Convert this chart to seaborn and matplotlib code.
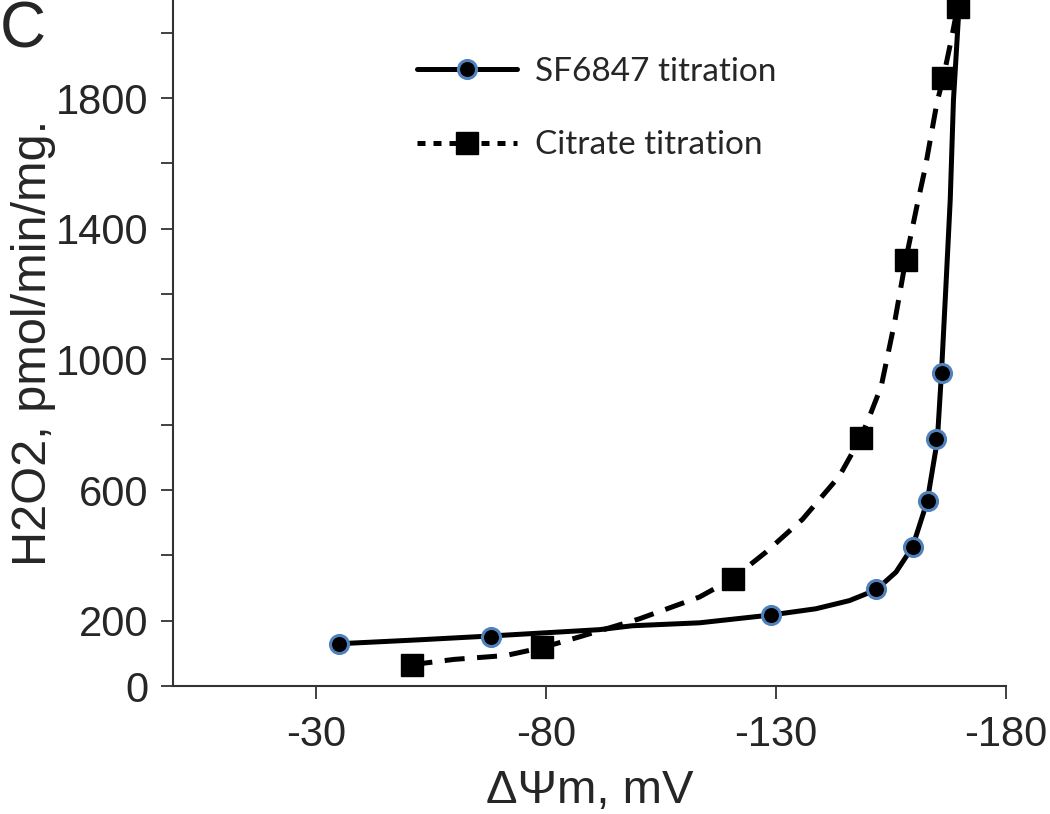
import pandas as pd
import seaborn as sns
import matplotlib
matplotlib.use('Agg')
import matplotlib.pyplot as plt
from matplotlib.lines import Line2D

# measured points
sf_x = [-35, -68, -129, -151.8, -159.7, -163.0, -164.8, -166.1]
sf_y = [130, 151, 218, 298, 425, 567, 756, 959]
cit_x = [-51, -79.2, -120.6, -148.5, -158.2, -166.3, -169.6]
cit_y = [66, 120, 328, 761, 1303, 1862, 2078]

# fitted curves
sf_fit_x = [-35.1, -52.5, -68.4, -91.6, -98.8, -113.4, -129, -138.7, -146, -151.8,
            -156.1, -159.7, -162.9, -165.1, -166, -167.0, -167.9, -168.6, -169.9]
sf_fit_y = [130, 142, 154, 173, 185, 194, 218, 237, 262, 295,
            349, 426, 566, 753, 960, 1235, 1489, 1794, 2099]
cit_fit_x = [-51, -60, -71.3, -79.2, -87.3, -100.3, -113.4, -120.5, -127.9, -135.8,
             -143.8, -148.5, -150.7, -152.9, -155.8, -158.2, -160.8, -162.5, -165.0,
             -166.4, -168.1, -169.5]
cit_fit_y = [66, 82, 94, 118, 151, 206, 273, 328, 411, 511,
             643, 762, 838, 918, 1113, 1303, 1479, 1589, 1785,
             1863, 1977, 2079]

x_ticks = [-30, -80, -130, -180]
y_ticks = [0, 200, 400, 600, 800, 1000, 1200, 1400, 1600, 1800, 2000]
y_labels = ['0', '200', '', '600', '', '1000', '', '1400', '', '1800', '']

sf_pts = pd.DataFrame({'x': sf_x, 'y': sf_y})
cit_pts = pd.DataFrame({'x': cit_x, 'y': cit_y})
sf_fit = pd.DataFrame({'x': sf_fit_x, 'y': sf_fit_y})
cit_fit = pd.DataFrame({'x': cit_fit_x, 'y': cit_fit_y})

sns.set_style('white')
plt.rcParams['font.family'] = ['Liberation Sans', 'DejaVu Sans']

blue = '#4F81BD'
dash = (0, (4, 2.5))

fig = plt.figure(figsize=(10.5, 8.14), dpi=100)
ax = fig.add_axes([0.165, 0.157, 0.793, 0.843])

sns.lineplot(data=sf_fit, x='x', y='y', sort=False, estimator=None, color='black',
             linewidth=3.6, ax=ax)
sns.lineplot(data=cit_fit, x='x', y='y', sort=False, estimator=None, color='black',
             linewidth=3.6, linestyle=dash, ax=ax)
ax.plot(sf_pts['x'], sf_pts['y'], 'o', color='black', markersize=13,
        markeredgecolor=blue, markeredgewidth=2.2, clip_on=False, zorder=5)
ax.plot(cit_pts['x'], cit_pts['y'], 's', color='black', markersize=16,
        markeredgecolor='black', clip_on=False, zorder=5)

ax.set_xlim(1, -180)
ax.set_ylim(0, 2100)
ax.set_xticks(x_ticks)
ax.set_xticklabels([str(v) for v in x_ticks], fontsize=30)
ax.set_yticks(y_ticks)
ax.set_yticklabels(y_labels, fontsize=30)
ax.tick_params(axis='both', direction='out', length=9, width=1.3, color='#333333',
               bottom=True, left=True)
ax.tick_params(axis='x', pad=12)
ax.tick_params(axis='y', pad=9)

sns.despine(ax=ax)
for side in ['left', 'bottom']:
    ax.spines[side].set_linewidth(1.5)
    ax.spines[side].set_color('#333333')

ax.set_xlabel('\u0394\u03a8m, mV', fontsize=34, labelpad=10)
ax.set_ylabel('H2O2, pmol/min/mg.', fontsize=35)
ax.yaxis.set_label_coords(-0.141, 0.5)

fig.text(0.0, 1.0, 'C', fontsize=46, va='top', ha='left')

handles = [
    Line2D([], [], color='black', linewidth=3.6, marker='o', markersize=13,
           markerfacecolor='black', markeredgecolor=blue, markeredgewidth=2.2),
    Line2D([], [], color='black', linewidth=3.6, linestyle=(0, (1.6, 1.6)), marker='s',
           markersize=16, markerfacecolor='black'),
]
fig.legend(handles, ['SF6847 titration', 'Citrate titration'], loc='upper left',
           bbox_to_anchor=(0.397, 0.93), frameon=False, borderpad=0, borderaxespad=0,
           handlelength=3.0, handletextpad=0.55, labelspacing=1.3,
           prop={'family': 'Lato', 'size': 24})

fig.savefig('out.png', dpi=100)
